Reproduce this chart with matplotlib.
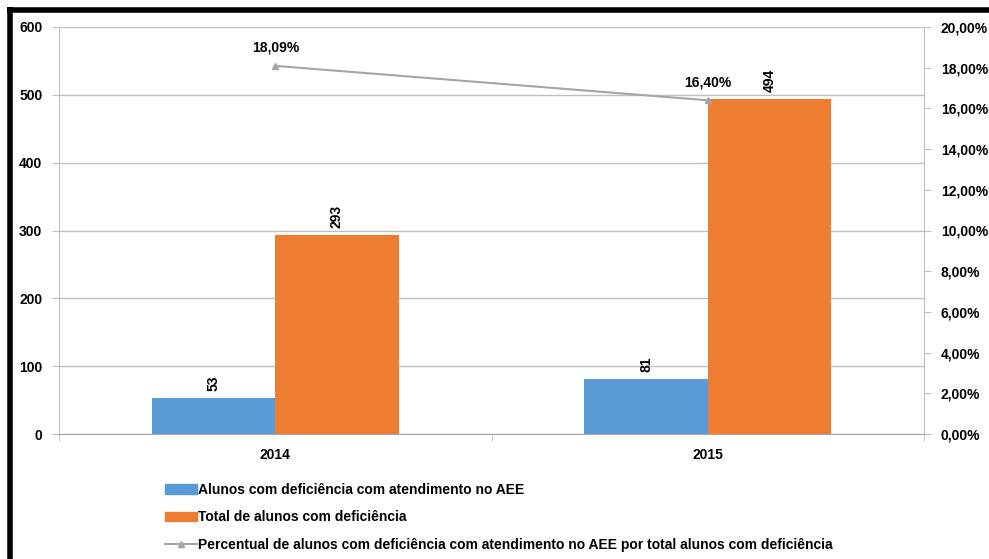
import numpy as np
import matplotlib.pyplot as plt
from matplotlib.lines import Line2D
from matplotlib.patches import Patch

years = ['2014', '2015']
com_aee = [53, 81]
total = [293, 494]
percentual = [18.09, 16.40]
left_ticks = [0, 100, 200, 300, 400, 500, 600]
right_ticks = [0, 2, 4, 6, 8, 10, 12, 14, 16, 18, 20]

blue = '#5B9BD5'
orange = '#ED7D31'
gray = '#A5A5A5'
grid = '#BFBFBF'

plt.rcParams['font.family'] = ['Liberation Sans', 'DejaVu Sans']
plt.rcParams['font.weight'] = 'bold'
plt.rcParams['font.size'] = 10

fig = plt.figure(figsize=(9.89, 5.59), dpi=100)
W, H = 989, 559
ax = fig.add_axes([59 / W, 1 - 434 / H, (924 - 59) / W, (434 - 27) / H])

x = np.arange(len(years))
bw = 0.285
ax.bar(x - bw / 2, com_aee, bw, color=blue, zorder=3)
ax.bar(x + bw / 2, total, bw, color=orange, zorder=3)
for xi, v in zip(x - bw / 2, com_aee):
    ax.annotate(str(v), (xi, v), xytext=(0, 5), textcoords='offset points',
                ha='center', va='bottom', rotation=90)
for xi, v in zip(x + bw / 2, total):
    ax.annotate(str(v), (xi, v), xytext=(0, 5), textcoords='offset points',
                ha='center', va='bottom', rotation=90)

ax.set_xlim(-0.5, 1.5)
ax.set_ylim(0, 600)
ax.set_yticks(left_ticks)
ax.set_xticks(x)
ax.set_xticklabels(years)
ax.set_xticks([-0.5, 0.5, 1.5], minor=True)
ax.tick_params(axis='x', which='major', length=0, pad=10)
ax.tick_params(axis='x', which='minor', length=5, color=grid)
ax.tick_params(axis='y', length=5, color=grid, pad=7)
ax.yaxis.grid(True, color=grid, linewidth=1, zorder=0)
for s in ['top', 'right']:
    ax.spines[s].set_visible(False)
ax.spines['left'].set_color(grid)
ax.spines['bottom'].set_color('#A6A6A6')

ax2 = ax.twinx()
ax2.plot(x, percentual, color=gray, marker='^', markersize=5, linewidth=1.5, zorder=4)
for xi, v in zip(x, percentual):
    ax2.annotate(f'{v:.2f}%'.replace('.', ','), (xi, v), xytext=(0, 8),
                 textcoords='offset points', ha='center', va='bottom')
ax2.set_ylim(0, 20)
ax2.set_yticks(right_ticks)
ax2.set_yticklabels([f'{t:.2f}%'.replace('.', ',') for t in right_ticks])
ax2.tick_params(axis='y', length=5, color=grid, pad=7)
for s in ['top', 'left', 'bottom']:
    ax2.spines[s].set_visible(False)
ax2.spines['right'].set_color(grid)

handles = [Patch(color=blue), Patch(color=orange),
           Line2D([], [], color=gray, marker='^', markersize=5, linewidth=1.5)]
labels = ['Alunos com deficiência com atendimento no AEE',
          'Total de alunos com deficiência',
          'Percentual de alunos com deficiência com atendimento no AEE por total alunos com deficiência']
fig.legend(handles, labels, loc='upper left', bbox_to_anchor=(159 / W, 1 - 477 / H),
           frameon=False, handlelength=2.3, handleheight=0.7,
           handletextpad=0.1, labelspacing=1.0, borderaxespad=0)

# black frame (top and left)
fig.add_artist(Line2D([7 / W, 1], [1 - 9.5 / H, 1 - 9.5 / H], color='black', linewidth=4,
                      transform=fig.transFigure, solid_capstyle='butt'))
fig.add_artist(Line2D([9.5 / W, 9.5 / W], [0, 1 - 7 / H], color='black', linewidth=4,
                      transform=fig.transFigure, solid_capstyle='butt'))

fig.savefig('out.png', dpi=100)
